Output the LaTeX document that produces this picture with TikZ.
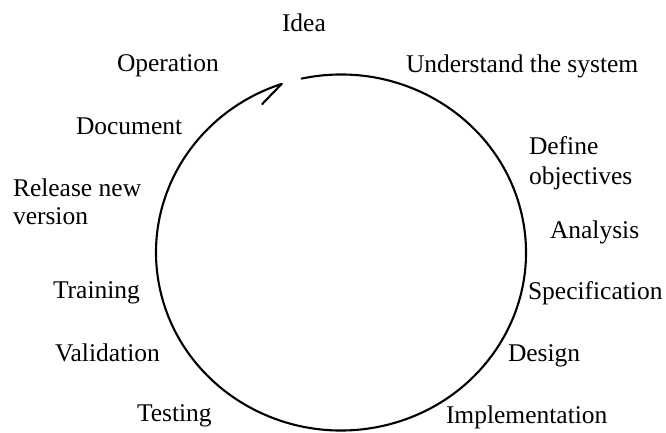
\documentclass[tikz,border=0pt]{standalone}
\usepackage{fontspec}
\setmainfont{Liberation Serif}
\begin{document}
\begin{tikzpicture}[x=1pt,y=1pt,
  lbl/.style={anchor=base west,inner sep=0pt,outer sep=0pt,font=\fontsize{25.5}{27.5}\selectfont},
  cyc/.style={line width=2.1pt,line cap=round}]
\useasboundingbox[fill=white] (0,0) rectangle (666,432);
\coordinate (c) at (341,179.5);
\coordinate (start) at ([shift={(102.3:185 and 178)}]c);
\coordinate (tip) at ([shift={(108.7:185 and 178)}]c);
\draw[cyc] (start) arc[start angle=102.3,end angle=-251.3,x radius=185,y radius=178];
\draw[cyc] (tip) -- ++(226:28);
\node[lbl] (idea) at (282,400) {Idea};
\node[lbl] (under) at (406,359.3) {Understand the system};
\node[lbl,align=left,font=\fontsize{25.5}{30}\selectfont] (define) at (529,248) {Define\\objectives};
\node[lbl] (analysis) at (550,194) {Analysis};
\node[lbl] (spec) at (528,133) {Specification};
\node[lbl] (design) at (508,71) {Design};
\node[lbl] (impl) at (446,9) {Implementation};
\node[lbl] (testing) at (137,11) {Testing};
\node[lbl] (valid) at (55,71) {Validation};
\node[lbl] (train) at (53,134) {Training};
\node[lbl,align=left,font=\fontsize{25.5}{27.6}\selectfont] (release) at (13,208) {Release new\\version};
\node[lbl] (doc) at (76,298) {Document};
\node[lbl] (oper) at (117,360) {Operation};
\end{tikzpicture}
\end{document}
